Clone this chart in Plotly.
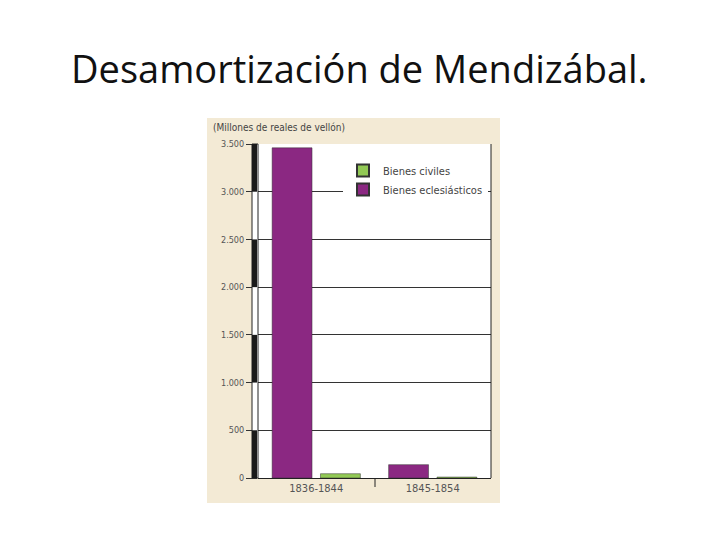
import plotly.graph_objects as go

periods = ["1836-1844", "1845-1854"]
eclesiasticos = [3460, 140]
civiles = [45, 10]
tick_vals = [0, 500, 1000, 1500, 2000, 2500, 3000, 3500]
tick_text = ["0", "500", "1.000", "1.500", "2.000", "2.500", "3.000", "3.500"]

OFF = 8
L, R, T, B = 258, 491, 144, 478
W, H = 720, 540
pw, ph = R - L, B - T
def px(x): return (x - L) / pw
def py(y): return (B - y) / ph

fig = go.Figure()
fig.add_bar(x=periods, y=eclesiasticos, name="Bienes eclesiásticos",
            marker=dict(color="#8b2882", line=dict(color="#333", width=0.5)))
fig.add_bar(x=periods, y=civiles, name="Bienes civiles",
            marker=dict(color="#92c955", line=dict(color="#333", width=0.5)))

shapes = [
    dict(type="rect", xref="paper", yref="paper", x0=px(207), x1=px(500), y0=py(503), y1=py(118),
         fillcolor="#f3ead5", line=dict(width=0), layer="below"),
    dict(type="rect", xref="paper", yref="paper", x0=0, x1=1, y0=0, y1=1,
         fillcolor="white", line=dict(width=0), layer="below"),
    dict(type="line", xref="paper", yref="paper", x0=1, x1=1, y0=0, y1=1, line=dict(color="#222", width=1)),
    dict(type="rect", xref="paper", yref="paper", x0=px(252), x1=px(258), y0=0, y1=1,
         fillcolor="white", line=dict(color="#222", width=1)),
    dict(type="line", xref="paper", yref="paper", x0=px(375), x1=px(375), y0=0, y1=py(487),
         line=dict(color="#222", width=1)),
]
for v in tick_vals[:-1:2]:
    shapes.append(dict(type="rect", xref="paper", yref="y", x0=px(252), x1=px(257), y0=v, y1=v + 500,
                       fillcolor="#1a1a1a", line=dict(width=0)))

fig.update_layout(
    width=W, height=H, margin=dict(l=L - OFF, r=W - R + OFF, t=T - OFF, b=H - B + OFF),
    paper_bgcolor="white", plot_bgcolor="rgba(0,0,0,0)",
    barmode="group", bargap=0.17, bargroupgap=0.175,
    showlegend=True,
    legend=dict(x=px(343), y=py(156), xanchor="left", yanchor="top", bgcolor="white",
                traceorder="reversed", font=dict(family="DejaVu Sans Condensed, DejaVu Sans", size=11, color="#444"),
                itemwidth=30, itemsizing="constant", tracegroupgap=6),
    xaxis=dict(showgrid=False, showline=True, linecolor="#222", linewidth=1, ticks="",
               tickfont=dict(family="DejaVu Sans Condensed, DejaVu Sans", size=11, color="#555")),
    yaxis=dict(range=[0, 3500], tickvals=tick_vals, ticktext=tick_text, showgrid=True,
               gridcolor="#333", gridwidth=1, zeroline=False, showline=False, ticks="outside",
               ticklen=11, tickcolor="#333",
               tickfont=dict(family="DejaVu Sans Condensed, DejaVu Sans", size=9, color="#555")),
    shapes=shapes,
    annotations=[
        dict(text="Desamortización de Mendizábal.", xref="paper", yref="paper", x=px(359),
             y=py(68), xanchor="center", yanchor="middle", showarrow=False,
             font=dict(family="Open Sans", size=38, color="#111")),
        dict(text="(Millones de reales de vellón)", xref="paper", yref="paper", x=px(211), y=py(127),
             xanchor="left", yanchor="middle", showarrow=False,
             font=dict(family="DejaVu Sans Condensed, DejaVu Sans", size=10, color="#444")),
    ],
)
fig.write_html("out.html")
